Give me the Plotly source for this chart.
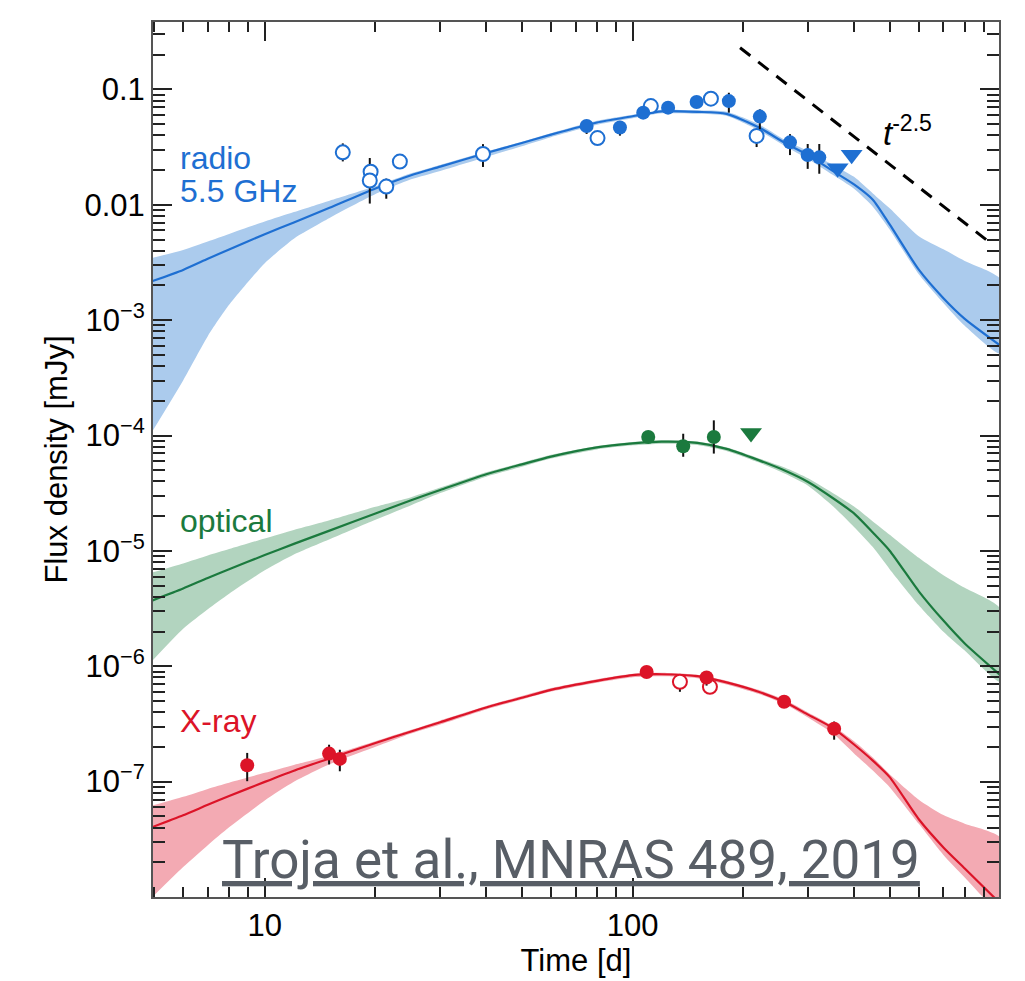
import plotly.graph_objects as go

# ---------------- model curves (time in days, log10 flux density in mJy) -------------
model_t = [4.9, 6, 7, 8, 10, 12, 15, 20, 25, 30, 40, 50, 60, 80, 100, 120, 150, 180,
           220, 260, 300, 350, 400, 450, 500, 600, 700, 800, 1000]

radio_mid_log = [-2.666, -2.564, -2.468, -2.387, -2.254, -2.153, -2.026, -1.858, -1.743, -1.669,
                 -1.551, -1.464, -1.391, -1.286, -1.232, -1.189, -1.194, -1.211, -1.327, -1.465,
                 -1.568, -1.706, -1.822, -1.955, -2.170, -2.562, -2.809, -2.988, -3.220]
radio_hi_log = [-2.463, -2.391, -2.317, -2.252, -2.145, -2.063, -1.964, -1.839, -1.727, -1.654,
                -1.538, -1.452, -1.379, -1.271, -1.219, -1.176, -1.181, -1.194, -1.301, -1.439,
                -1.534, -1.654, -1.757, -1.901, -2.030, -2.272, -2.386, -2.486, -2.644]
radio_lo_log = [-3.986, -3.523, -3.139, -2.867, -2.506, -2.293, -2.114, -1.907, -1.779, -1.706,
                -1.585, -1.491, -1.413, -1.306, -1.250, -1.207, -1.211, -1.228, -1.353, -1.491,
                -1.602, -1.740, -1.861, -2.016, -2.213, -2.601, -2.850, -3.048, -3.289]

opt_mid_log = [-5.435, -5.326, -5.234, -5.159, -5.036, -4.939, -4.824, -4.676, -4.560, -4.472,
               -4.335, -4.250, -4.182, -4.102, -4.068, -4.053, -4.064, -4.115, -4.213, -4.305,
               -4.402, -4.541, -4.675, -4.841, -4.998, -5.350, -5.604, -5.802, -6.077]
opt_hi_log = [-5.191, -5.109, -5.040, -4.984, -4.892, -4.818, -4.734, -4.617, -4.534, -4.451,
              -4.318, -4.236, -4.167, -4.090, -4.055, -4.040, -4.051, -4.102, -4.197, -4.279,
              -4.370, -4.497, -4.614, -4.744, -4.859, -5.059, -5.210, -5.320, -5.501]
opt_lo_log = [-5.966, -5.675, -5.506, -5.371, -5.168, -5.031, -4.899, -4.730, -4.604, -4.498,
              -4.356, -4.270, -4.199, -4.120, -4.085, -4.071, -4.081, -4.133, -4.232, -4.331,
              -4.434, -4.610, -4.792, -4.967, -5.158, -5.471, -5.700, -5.864, -6.135]

xray_mid_log = [-7.399, -7.292, -7.201, -7.125, -7.002, -6.905, -6.799, -6.665, -6.565, -6.485,
                -6.357, -6.273, -6.204, -6.126, -6.077, -6.069, -6.086, -6.140, -6.221, -6.312,
                -6.419, -6.534, -6.678, -6.818, -6.961, -7.326, -7.570, -7.753, -8.057]
xray_hi_log = [-7.211, -7.132, -7.063, -7.009, -6.924, -6.855, -6.775, -6.650, -6.551, -6.469,
               -6.344, -6.258, -6.189, -6.112, -6.065, -6.056, -6.073, -6.125, -6.204, -6.293,
               -6.400, -6.516, -6.650, -6.790, -6.935, -7.156, -7.290, -7.364, -7.486]
xray_lo_log = [-8.014, -7.741, -7.551, -7.396, -7.164, -7.002, -6.850, -6.698, -6.583, -6.504,
               -6.374, -6.288, -6.219, -6.142, -6.095, -6.086, -6.103, -6.157, -6.238, -6.331,
               -6.443, -6.581, -6.755, -6.904, -7.048, -7.366, -7.635, -7.830, -8.126]

# ---------------- observations (days, mJy) -------------------------------------------
radio_open_t = [16.3, 19.4, 19.3, 21.4, 23.3, 39.2, 80.3, 112.1, 163.3, 217.4]
radio_open_f = [0.0285, 0.0194, 0.01626, 0.0144, 0.0237, 0.0276, 0.0379, 0.0718, 0.0832, 0.0396]
radio_open_ep = [0.0056, 0, 0.0092, 0.0025, 0, 0.0060, 0, 0, 0, 0.0050]
radio_open_em = [0.0047, 0, 0.0060, 0.0031, 0, 0.0063, 0, 0, 0, 0.0079]

radio_fill_t = [75.0, 92.4, 106.9, 124.9, 149.3, 182.7, 221.8, 267.9, 299.3, 321.8]
radio_fill_f = [0.0483, 0.0468, 0.0630, 0.0696, 0.0778, 0.0793, 0.0582, 0.0348, 0.0270, 0.0258]
radio_fill_ep = [0.006, 0.006, 0, 0, 0, 0.0144, 0.0091, 0.0062, 0.0067, 0.0079]
radio_fill_em = [0.0071, 0.0070, 0, 0, 0, 0.0163, 0.0129, 0.0078, 0.0065, 0.0072]

radio_ul_t = [361.0, 394.1]
radio_ul_f = [0.0208, 0.0272]

opt_t = [110.3, 137.3, 166.3]
opt_f = [9.73e-5, 8.09e-5, 9.73e-5]
opt_ep = [0, 2.28e-5, 3.82e-5]
opt_em = [0, 1.54e-5, 2.75e-5]
opt_ul_t = [209.9]
opt_ul_f = [1.052e-4]

xray_fill_t = [8.96, 14.96, 16.0, 109.2, 158.9, 258.2, 353.2]
xray_fill_f = [1.387e-7, 1.75e-7, 1.574e-7, 8.93e-7, 8.0e-7, 4.93e-7, 2.87e-7]
xray_fill_ep = [0.387e-7, 0.34e-7, 0.316e-7, 0, 0, 0, 0.45e-7]
xray_fill_em = [0.378e-7, 0.34e-7, 0.344e-7, 0, 1.2e-7, 0, 0.56e-7]
xray_open_t = [134.5, 162.3]
xray_open_f = [7.33e-7, 6.64e-7]
xray_open_ep = [0, 0]
xray_open_em = [1.32e-7, 0]

# t^-2.5 reference line
pl_t = [196, 937]
pl_f = [0.23, 0.0047]

# axis ticks
x_major = [10, 100, 1000]
x_major_text = ["10", "100", "1000"]
y_major = [1e-7, 1e-6, 1e-5, 1e-4, 1e-3, 1e-2, 1e-1]
y_major_text = ["10<sup>\u22127</sup>", "10<sup>\u22126</sup>", "10<sup>\u22125</sup>",
                "10<sup>\u22124</sup>", "10<sup>\u22123</sup>", "0.01", "0.1"]

BLUE, BLUE_BAND = "#1e6fd2", "#abcbed"
GREEN, GREEN_BAND = "#1b7a3e", "#b2d4bf"
RED, RED_BAND = "#dc1428", "#f3aab3"
FONT = "Liberation Sans, Arial, Helvetica, sans-serif"

fig = go.Figure()


def lin(vals):
    return [10 ** v for v in vals]


for hi, lo, mid, col, band in [
    (radio_hi_log, radio_lo_log, radio_mid_log, BLUE, BLUE_BAND),
    (opt_hi_log, opt_lo_log, opt_mid_log, GREEN, GREEN_BAND),
    (xray_hi_log, xray_lo_log, xray_mid_log, RED, RED_BAND),
]:
    fig.add_trace(go.Scatter(
        x=model_t + model_t[::-1], y=lin(hi) + lin(lo)[::-1],
        fill="toself", fillcolor=band, line=dict(width=0, color=band, shape="spline", smoothing=0.6),
        mode="lines", hoverinfo="skip"))
    fig.add_trace(go.Scatter(
        x=model_t, y=lin(mid), mode="lines",
        line=dict(color=col, width=2.2, shape="spline", smoothing=0.6)))

fig.add_trace(go.Scatter(x=pl_t, y=pl_f, mode="lines",
                         line=dict(color="black", width=3, dash="13px,10px")))


def pts(t, f, ep, em, color, filled, symbol="circle", size=14):
    kw = {}
    if ep is not None:
        kw["error_y"] = dict(type="data", symmetric=False, array=ep, arrayminus=em,
                             color="#111111", thickness=2, width=0)
    return go.Scatter(
        x=t, y=f, mode="markers",
        marker=dict(symbol=symbol, size=size,
                    color=color if filled else "white",
                    line=dict(color=color, width=0 if filled else 2)),
        **kw)


fig.add_trace(pts(radio_open_t, radio_open_f, radio_open_ep, radio_open_em, BLUE, False))
fig.add_trace(pts(radio_fill_t, radio_fill_f, radio_fill_ep, radio_fill_em, BLUE, True))
fig.add_trace(pts(radio_ul_t, radio_ul_f, None, None, BLUE, True, "triangle-down", 19))
fig.add_trace(pts(opt_t, opt_f, opt_ep, opt_em, GREEN, True))
fig.add_trace(pts(opt_ul_t, opt_ul_f, None, None, GREEN, True, "triangle-down", 19))
fig.add_trace(pts(xray_open_t, xray_open_f, xray_open_ep, xray_open_em, RED, False))
fig.add_trace(pts(xray_fill_t, xray_fill_f, xray_fill_ep, xray_fill_em, RED, True))

x_minor = [k * 10 ** n for n in range(0, 3) for k in range(2, 10)]
y_minor = [k * 10 ** n for n in range(-9, 0) for k in range(2, 10)]

axis_common = dict(
    type="log", showgrid=False, zeroline=False,
    showline=True, linecolor="#555555", linewidth=2, mirror="ticks",
    ticks="inside", ticklen=19, tickwidth=2, tickcolor="#222222",
    tickfont=dict(family=FONT, size=31, color="black"),
)

fig.update_xaxes(
    **axis_common, range=[0.6962, 2.9962], tickmode="array",
    tickvals=x_major, ticktext=x_major_text,
    minor=dict(tickmode="array", tickvals=x_minor, ticks="inside", ticklen=10,
               tickwidth=2, tickcolor="#222222", showgrid=False),
    title=dict(text="Time [d]", font=dict(family=FONT, size=31, color="black"), standoff=4),
)
fig.update_yaxes(
    **axis_common, range=[-8.0, -0.415], tickmode="array",
    tickvals=y_major, ticktext=y_major_text,
    minor=dict(tickmode="array", tickvals=y_minor, ticks="inside", ticklen=12,
               tickwidth=2, tickcolor="#222222", showgrid=False),
    title=dict(text="Flux density [mJy]", font=dict(family=FONT, size=31, color="black"), standoff=8),
)

ann = []
for txt, y, col in [("radio", 0.8445, BLUE), ("5.5 GHz", 0.807, BLUE),
                    ("optical", 0.430, GREEN), ("X-ray", 0.201, RED)]:
    ann.append(dict(text=txt, x=0.030, y=y, xref="paper", yref="paper",
                    xanchor="left", yanchor="middle", showarrow=False,
                    font=dict(family=FONT, size=32, color=col)))
ann.append(dict(text="<i>t</i><sup>-2.5</sup>", x=0.860, y=0.876, xref="paper", yref="paper",
                xanchor="left", yanchor="middle", showarrow=False,
                font=dict(family=FONT, size=33, color="black")))
ann.append(dict(text="<u>Troja et al., MNRAS 489, 2019</u>", x=0.494, y=0.042,
                xref="paper", yref="paper", xanchor="center", yanchor="middle",
                showarrow=False, font=dict(family="Roboto", size=53, color="#585e66")))

fig.update_layout(
    width=1025, height=981,
    margin=dict(l=153, r=26, t=22, b=78),
    paper_bgcolor="white", plot_bgcolor="white",
    showlegend=False, annotations=ann,
    font=dict(family=FONT, color="black"),
)

fig.write_html("out.html")
